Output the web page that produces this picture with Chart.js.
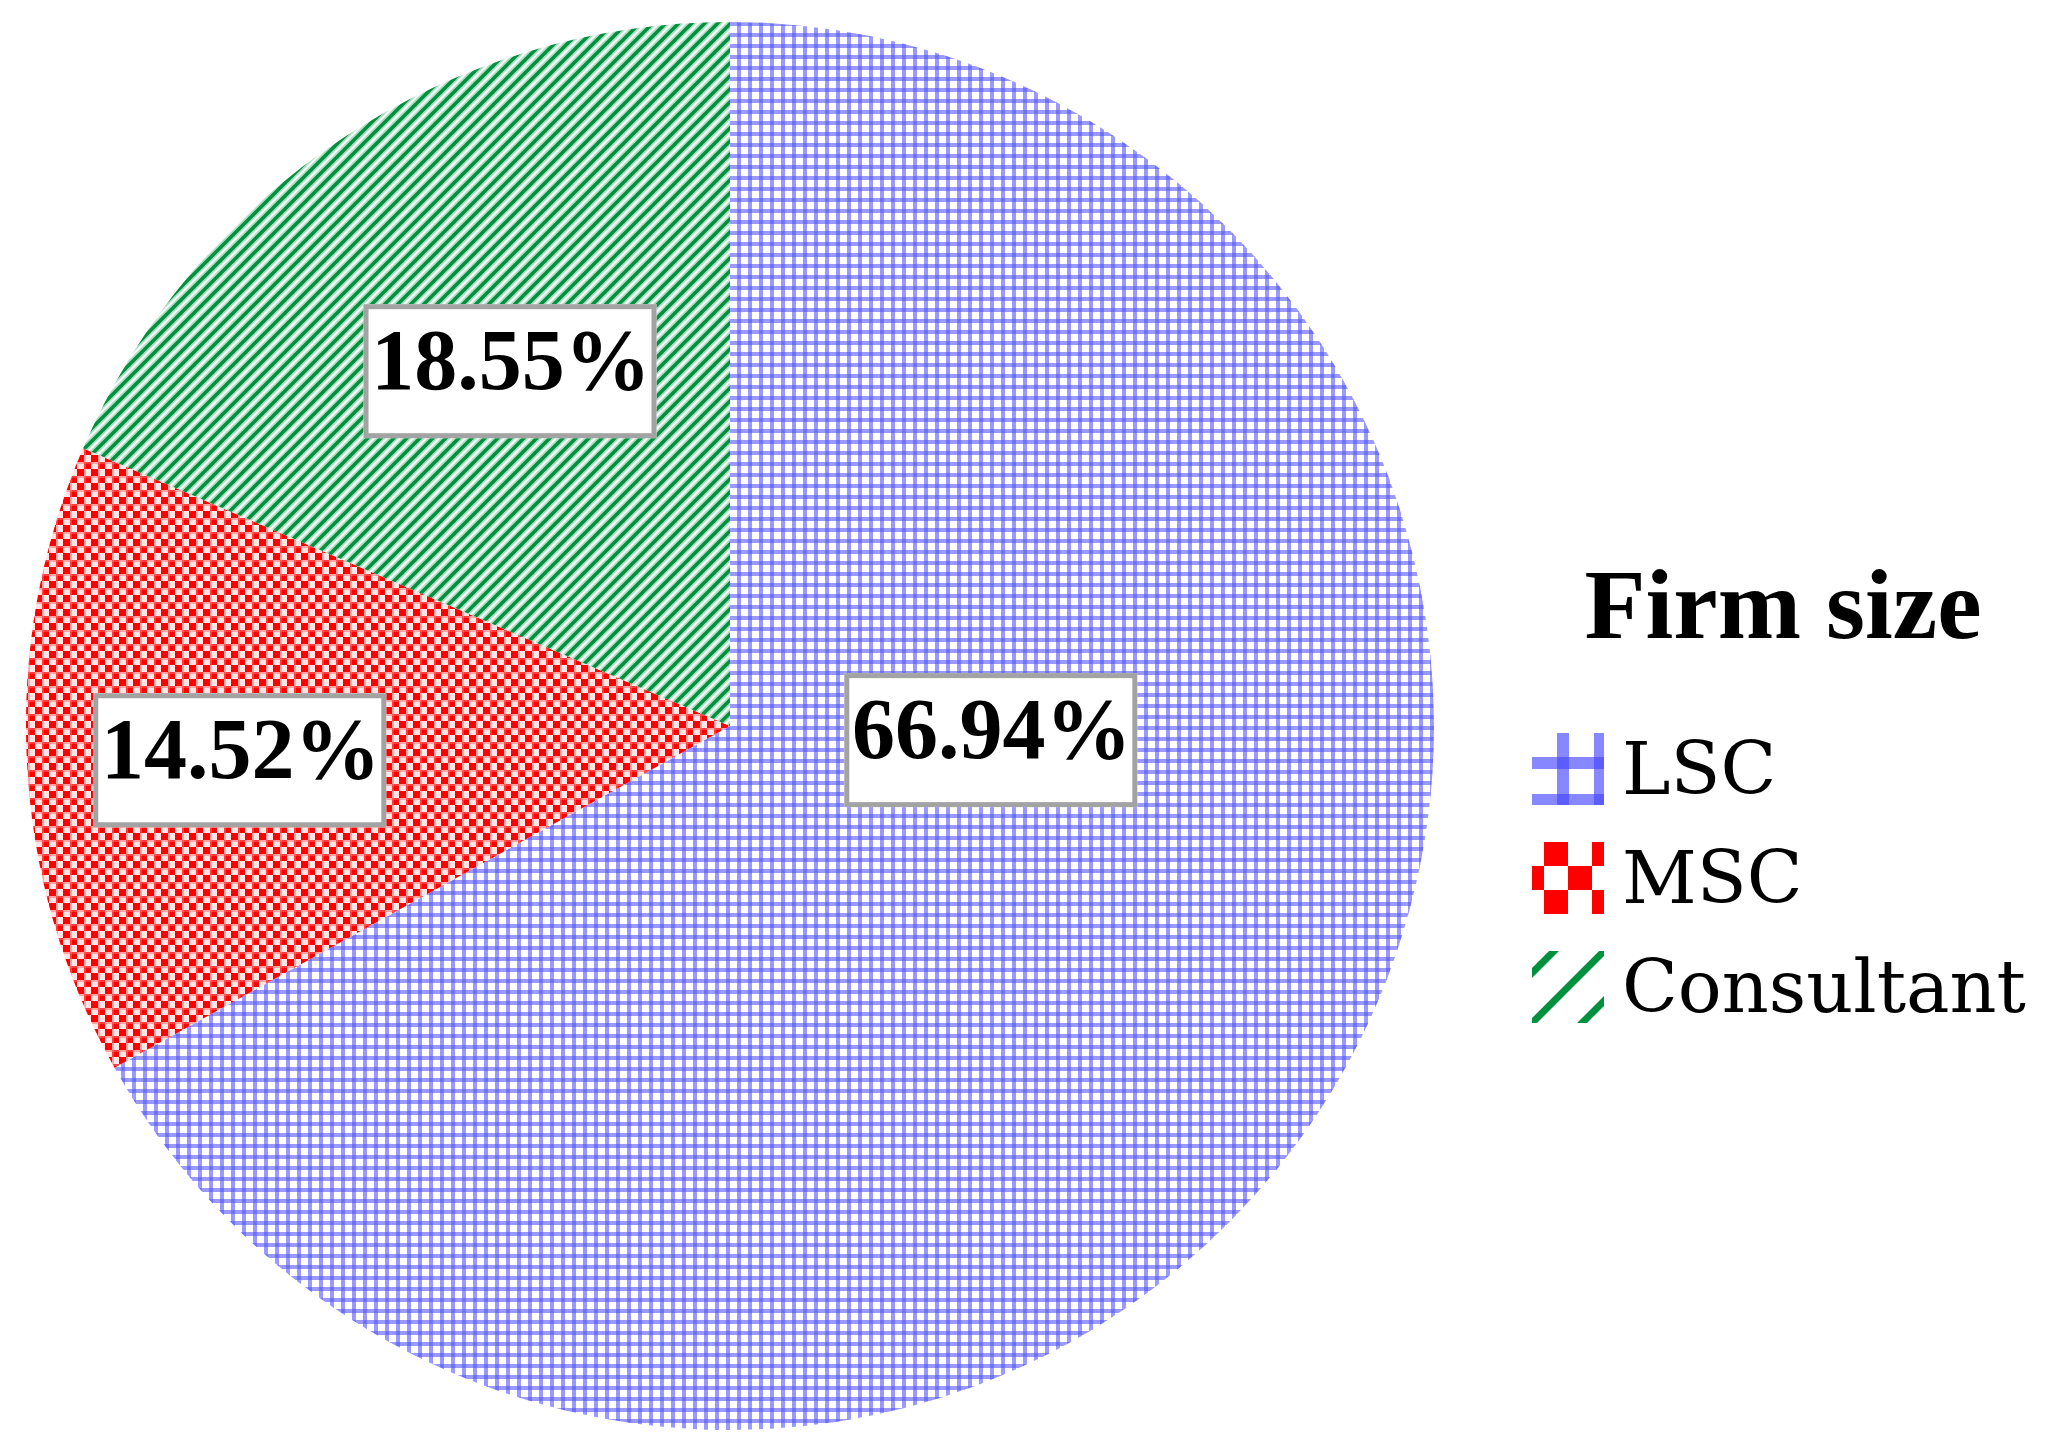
<!DOCTYPE html>
<html><head><meta charset="utf-8">
<script src="https://cdn.jsdelivr.net/npm/chart.js@4.4.1/dist/chart.umd.min.js"></script>
<style>html,body{margin:0;padding:0;background:#fff;overflow:hidden}#wrap{width:2051px;height:1448px;position:relative}</style>
</head><body><div id="wrap"><canvas id="c" width="2051" height="1448"></canvas></div>
<script>
// ---- data ----
const categories = ['LSC', 'MSC', 'Consultant'];
const shares = [66.94, 14.52, 18.55];
const valueLabels = ['66.94%', '14.52%', '18.55%'];
const legendTitle = 'Firm size';

// ---- patterns ----
function makeTile(w, h, draw) {
  const c = document.createElement('canvas');
  c.width = w; c.height = h;
  draw(c.getContext('2d'), w, h);
  return c;
}
function diag(g, p, lw, color) {
  g.strokeStyle = color; g.lineWidth = lw; g.lineCap = 'square';
  for (const k of [-1, 0, 1]) { g.beginPath(); g.moveTo(k * p, p); g.lineTo(k * p + p, 0); g.stroke(); }
}
const blueTile = makeTile(11, 11, (g) => {
  g.fillStyle = '#ffffff'; g.fillRect(0, 0, 11, 11);
  g.fillStyle = 'rgba(85,85,255,0.6)';
  g.fillRect(0, 0, 4, 11); g.fillRect(0, 0, 11, 4);
});
const redTile = makeTile(14, 14, (g) => {
  g.fillStyle = '#ffe4e4'; g.fillRect(0, 0, 14, 14);
  g.fillStyle = '#ff0000';
  g.fillRect(0, 0, 7, 7); g.fillRect(7, 7, 7, 7);
  g.fillStyle = 'rgba(255,110,110,0.55)';
  g.fillRect(0, 0, 2, 14); g.fillRect(0, 0, 14, 2);
});
const greenTile = makeTile(13, 13, (g) => {
  g.fillStyle = '#f6fcf8'; g.fillRect(0, 0, 13, 13);
  diag(g, 13, 7, 'rgba(0,150,70,0.3)');
  diag(g, 13, 3.5, '#00913f');
});
// larger tiles used for legend keys
const blueKey = makeTile(37, 37, (g) => {
  g.fillStyle = 'rgba(70,70,255,0.65)';
  g.fillRect(25, 0, 12, 37); g.fillRect(0, 24, 37, 12);
});
const redKey = makeTile(48, 48, (g) => {
  g.fillStyle = '#ff0000';
  g.fillRect(12, 0, 24, 24); g.fillRect(36, 24, 12, 24); g.fillRect(0, 24, 12, 24);
});
const greenKey = makeTile(50, 50, (g) => {
  diag(g, 50, 7, '#00913f');
});

const cnv = document.getElementById('c');
const ctx0 = cnv.getContext('2d');
const fills = [blueTile, redTile, greenTile].map(t => ctx0.createPattern(t, 'repeat'));
const keyTiles = [blueKey, redKey, greenKey];
const keyShift = [0, 0, 22];

const customDraw = {
  id: 'customDraw',
  afterDatasetsDraw(chart, args, opts) {
    const ctx = chart.ctx;
    const meta = chart.getDatasetMeta(0);
    meta.data.forEach((arc, i) => {
      const p = arc.getProps(['x', 'y', 'outerRadius'], true);
      const a = opts.labelAngles[i] * Math.PI / 180;
      const r = p.outerRadius * opts.labelRadii[i];
      const cx = p.x + r * Math.sin(a), cy = p.y - r * Math.cos(a);
      const w = opts.boxW, h = opts.boxH;
      ctx.save();
      ctx.fillStyle = '#ffffff';
      ctx.fillRect(cx - w / 2, cy - h / 2, w, h);
      ctx.strokeStyle = '#a3a3a3'; ctx.lineWidth = 5;
      ctx.strokeRect(cx - w / 2 + 2.5, cy - h / 2 + 2.5, w - 5, h - 5);
      ctx.fillStyle = '#000';
      ctx.font = opts.labelFont;
      ctx.textAlign = 'center'; ctx.textBaseline = 'alphabetic';
      ctx.fillText(chart.data.datasets[0].valueLabels[i], cx + 1, cy + 18);
      ctx.restore();
    });
  },
  afterDraw(chart, args, opts) {
    const ctx = chart.ctx;
    const L = opts.legend;
    ctx.save();
    ctx.fillStyle = '#000';
    ctx.font = L.titleFont;
    ctx.textAlign = 'center'; ctx.textBaseline = 'alphabetic';
    ctx.fillText(legendTitle, L.titleX, L.titleY);
    ctx.font = L.itemFont; ctx.textAlign = 'left'; ctx.textBaseline = 'middle';
    chart.data.labels.forEach((lab, i) => {
      const bx = L.boxX, by = L.firstY + i * L.step;
      const pat = ctx.createPattern(keyTiles[i], 'repeat');
      pat.setTransform(new DOMMatrix([1, 0, 0, 1, bx + keyShift[i], by]));
      ctx.fillStyle = pat;
      ctx.fillRect(bx, by, L.boxSize, L.boxSize);
      ctx.fillStyle = '#000';
      ctx.fillText(lab, L.textX, by + L.boxSize / 2 + 6);
    });
    ctx.restore();
  }
};

new Chart(cnv, {
  type: 'pie',
  data: {
    labels: categories,
    datasets: [{
      data: shares,
      valueLabels: valueLabels,
      backgroundColor: fills,
      borderWidth: 0
    }]
  },
  options: {
    responsive: false,
    animation: false,
    devicePixelRatio: 1,
    rotation: 0,
    layout: { padding: { top: 22, bottom: 18, left: 26, right: 617 } },
    plugins: {
      legend: { display: false },
      tooltip: { enabled: false },
      customDraw: {
        labelAngles: [93.1, 266.0, 328.2],
        labelRadii: [0.371, 0.698, 0.593],
        boxW: 293, boxH: 134,
        labelFont: 'bold 86px "Liberation Serif"',
        legend: {
          titleFont: 'bold 100px "Liberation Serif"',
          titleX: 1783, titleY: 638,
          itemFont: '73px "DejaVu Serif"',
          boxX: 1532, firstY: 733, step: 109, boxSize: 72,
          textX: 1622
        }
      }
    }
  },
  plugins: [customDraw]
});
</script>
</body></html>
